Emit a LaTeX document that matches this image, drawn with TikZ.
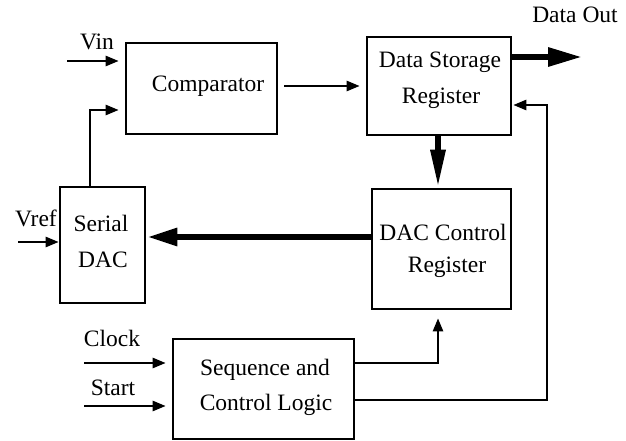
\documentclass[tikz,border=0pt]{standalone}
\usepackage{fontspec}
\setmainfont{Liberation Serif}
\usetikzlibrary{arrows.meta,calc}
\begin{document}
\begin{tikzpicture}[x=1pt,y=-1pt,
  box/.style={draw,line width=2.6pt,inner sep=0pt},
  txt/.style={inner sep=0pt,font=\fontsize{23.5}{28}\selectfont},
  thinarr/.style={line width=2.4pt,-{Triangle[length=13pt,width=10pt]}},
  thinline/.style={line width=2.4pt},
  thickarr/.style={line width=6pt},
]
\useasboundingbox (0,0) rectangle (626,441);
% boxes
\node[box,minimum width=151pt,minimum height=91pt] (comp) at (201.5,88.5) {};
\node[box,minimum width=144pt,minimum height=98pt] (dsr) at (439,86) {};
\node[box,minimum width=85pt,minimum height=116pt] (dac) at (102.5,245) {};
\node[box,minimum width=139pt,minimum height=120pt] (dcr) at (441.5,249) {};
\node[box,minimum width=181pt,minimum height=100pt] (scl) at (263.5,389) {};
% box texts
\node[txt] (compT) at (208,86) {Comparator};
\node[txt] (dsrT1) at (440,62) {Data Storage};
\node[txt] (dsrT2) at (441,98) {Register};
\node[txt] (dacT1) at (101,223) {Serial};
\node[txt] (dacT2) at (103,260) {DAC};
\node[txt] (dcrT1) at (443,232) {DAC Control};
\node[txt] (dcrT2) at (447,267) {Register};
\node[txt] (sclT1) at (265,370) {Sequence and};
\node[txt] (sclT2) at (266,405) {Control Logic};
% outer labels
\node[txt] (vinL) at (97,42) {Vin};
\node[txt] (vrefL) at (36,218) {Vref};
\node[txt] (clkL) at (112,338) {Clock};
\node[txt] (startL) at (113,388) {Start};
\node[txt] (doutL) at (575,15) {Data Out};
% free ends
\coordinate (vinS) at (67,61);
\coordinate (vrefS) at (18,242);
\coordinate (clkS) at (84,363);
\coordinate (startS) at (84,406);
\coordinate (doutE) at (582,57);
\coordinate (fbC) at (547,400);
% connectors
\draw[thinarr,shorten >=6pt] (vinS) -- (comp.west |- vinS);
\draw[thinarr,shorten >=6pt] (90,0 |- dac.north) -- (90,110) -- (comp.west |- 0,110);
\draw[thinarr,shorten <=6pt,shorten >=6pt] (comp.east |- 0,86) -- (dsr.west |- 0,86);
\draw[thickarr,-{Triangle[length=34pt,width=18pt]}] (dsr.east |- doutE) -- (doutE);
\draw[thickarr,-{Triangle[length=38pt,width=14pt]}] (438,0 |- dsr.south) -- (438,0 |- dcr.north);
\draw[thickarr,-{Triangle[length=30pt,width=17pt]},shorten >=1pt] (dcr.west |- 0,237) -- (dac.east |- 0,237);
\draw[thinarr] (vrefS) -- (dac.west |- vrefS);
\draw[thinarr,shorten >=6pt] (clkS) -- (scl.west |- clkS);
\draw[thinarr,shorten >=6pt] (startS) -- (scl.west |- startS);
\draw[thinarr,shorten >=8pt] (scl.east |- clkS) -| (438,0 |- dcr.south);
\draw[thinarr,shorten >=1pt] (scl.east |- fbC) -- (fbC) -- (547,105) -- (dsr.east |- 0,105);
\end{tikzpicture}
\end{document}
